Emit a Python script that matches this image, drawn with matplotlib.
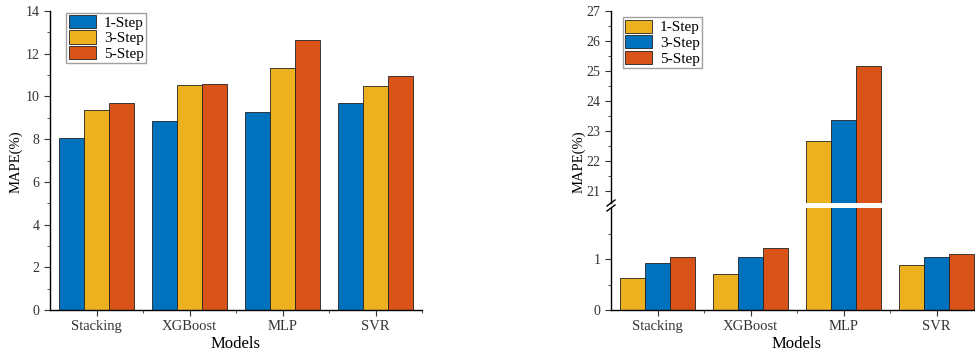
import numpy as np
import matplotlib
matplotlib.use("Agg")
import matplotlib.pyplot as plt
from matplotlib.ticker import MultipleLocator

plt.rcParams["font.family"] = ["Liberation Serif", "DejaVu Serif"]

models = ["Stacking", "XGBoost", "MLP", "SVR"]

# left panel
left_labels = ["1-Step", "3-Step", "5-Step"]
left_1step = [8.06, 8.86, 9.25, 9.68]
left_3step = [9.37, 10.52, 11.35, 10.49]
left_5step = [9.68, 10.57, 12.64, 10.94]

# right panel (broken axis)
right_labels = ["1-Step", "3-Step", "5-Step"]
right_1step = [0.63, 0.70, 22.67, 0.88]
right_3step = [0.915, 1.04, 23.38, 1.03]
right_5step = [1.046, 1.21, 25.17, 1.10]

BLUE = "#0072BD"
YELLOW = "#EDB120"
RED = "#D95319"

W, H = 975, 357
fig = plt.figure(figsize=(W / 100, H / 100), dpi=100)


def px_axes(x0, y0, x1, y1):
    # pixel box (top-left origin) -> figure axes
    return fig.add_axes([x0 / W, 1 - y1 / H, (x1 - x0) / W, (y1 - y0) / H])


def style(ax, bottom=True, top=False):
    ax.spines["right"].set_visible(False)
    ax.spines["top"].set_visible(top)
    ax.spines["bottom"].set_visible(bottom)
    for s in ax.spines.values():
        s.set_linewidth(1.0)
    ax.tick_params(axis="y", which="major", direction="out", length=4, labelsize=10, colors="#333333")
    ax.tick_params(axis="y", which="minor", direction="out", length=2, colors="#333333")
    ax.tick_params(axis="x", which="major", direction="out", length=4, labelsize=10.5, colors="#333333")
    ax.tick_params(axis="x", which="minor", direction="out", length=2, colors="#333333")
    ax.set_xlim(-0.5, 3.5)


def draw_bars(ax, series, colors, labels):
    x = np.arange(len(models))
    w = 0.8 / 3
    for i, (vals, c, lab) in enumerate(zip(series, colors, labels)):
        ax.bar(x + (i - 1) * w, vals, w, color=c, edgecolor="#222222",
               linewidth=0.6, label=lab)


def add_legend(ax, anchor):
    leg = ax.legend(loc="upper left", bbox_to_anchor=anchor, fontsize=11,
                    frameon=True, fancybox=False, edgecolor="#888888",
                    handlelength=1.8, handleheight=0.95, handletextpad=0.5,
                    labelspacing=0.05, borderpad=0.15, borderaxespad=0.1)
    leg.get_frame().set_linewidth(1.0)
    return leg


# ---- left chart ----
ax1 = px_axes(50, 11, 422, 310)
style(ax1)
draw_bars(ax1, [left_1step, left_3step, left_5step], [BLUE, YELLOW, RED], left_labels)
ax1.set_ylim(0, 14)
ax1.yaxis.set_major_locator(MultipleLocator(2))
ax1.yaxis.set_minor_locator(MultipleLocator(1))
ax1.set_xticks(range(len(models)))
ax1.set_xticklabels(models)
ax1.set_xticks([0.5, 1.5, 2.5, 3.5], minor=True)
fig.text(16 / W, 1 - 162 / H, "MAPE(%)", rotation=90, fontsize=10.5,
         ha="center", va="center")
ax1.set_xlabel("Models", fontsize=12, labelpad=2)
add_legend(ax1, (0.04, 1.0))

# ---- right chart (broken y axis) ----
ax_top = px_axes(611, 11, 983, 203)
ax_bot = px_axes(611, 208, 983, 310)
style(ax_top, bottom=False)
style(ax_bot)
rs = [right_1step, right_3step, right_5step]
rc = [YELLOW, BLUE, RED]
draw_bars(ax_top, rs, rc, right_labels)
draw_bars(ax_bot, rs, rc, right_labels)
ax_top.set_ylim(20.6, 27)
ax_bot.set_ylim(0, 2.0)
ax_top.yaxis.set_major_locator(MultipleLocator(1))
ax_top.yaxis.set_minor_locator(MultipleLocator(0.5))
ax_bot.set_yticks([0, 1])
ax_bot.set_yticks([0.5, 1.5], minor=True)
ax_top.set_xticks([])
ax_top.tick_params(axis="x", which="both", length=0)
ax_bot.set_xticks(range(len(models)))
ax_bot.set_xticklabels(models)
ax_bot.set_xticks([0.5, 1.5, 2.5], minor=True)
ax_bot.set_xlabel("Models", fontsize=12, labelpad=2)
fig.text(579 / W, 1 - 162 / H, "MAPE(%)", rotation=90, fontsize=10.5,
         ha="center", va="center")

# break marks on the left spine
for yb in (203, 208):
    fig.add_artist(plt.Line2D([607 / W, 615 / W], [1 - (yb + 3) / H, 1 - (yb - 3) / H],
                              color="black", linewidth=1.0))

add_legend(ax_top, (0.027, 0.975))

fig.savefig("out.png", dpi=100)
